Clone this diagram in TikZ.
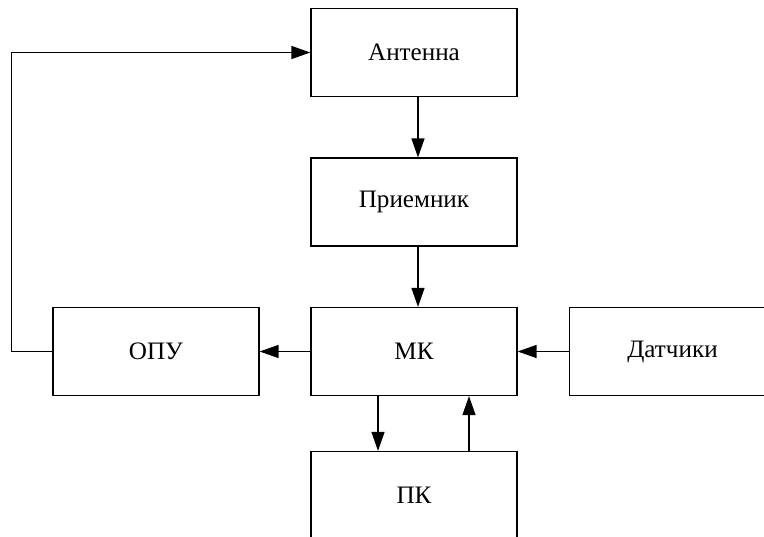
\documentclass[tikz,border=0pt]{standalone}
\usepackage{fontspec}
\setmainfont{Liberation Serif}
\usetikzlibrary{arrows.meta}

\begin{document}
\begin{tikzpicture}[
    x=0.02cm, y=-0.02cm,
    line width=0.7pt,
    every node/.style={font=\fontsize{14.3}{17}\selectfont},
    block/.style={draw, rectangle, minimum width=4.12cm, minimum height=1.76cm},
    arr/.style={-{Triangle[length=0.38cm, width=0.26cm]}}
]

\clip (0,0) rectangle (764,537);

% -----------------------------
% Blocks
% -----------------------------
\node[block] (ant) at (414,52.5) {Антенна};
\node[block] (prm) at (414,202)  {Приемник};
\node[block] (mk)  at (414,351.5) {МК};
\node[block] (opu) at (156,351.5) {ОПУ};
\node[block] (dat) at (672.5,351.5) {Датчики};
\node[block] (pk)  at (414,495.5) {ПК};

% -----------------------------
% Connections
% -----------------------------
\draw[arr] ([xshift=0.08cm]ant.south) -- ([xshift=0.08cm]prm.north);
\draw[arr] ([xshift=0.08cm]prm.south) -- ([xshift=0.08cm]mk.north);

\draw[arr] (mk.west) -- (opu.east);
\draw[arr] (dat.west) -- (mk.east);

\draw[arr] ([xshift=-0.72cm]mk.south) -- ([xshift=-0.72cm]pk.north);
\draw[arr] ([xshift=1.1cm]pk.north) -- ([xshift=1.1cm]mk.south);

% feedback to the antenna
\draw[arr] (opu.west) -- ++(-41,0) |- (ant.west);

\end{tikzpicture}
\end{document}
